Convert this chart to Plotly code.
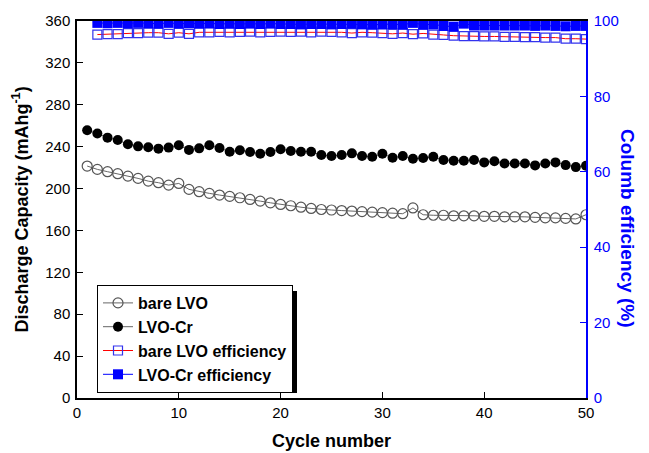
import plotly.graph_objects as go

cycles = list(range(1, 51))
bare_lvo = [221.5, 218.3, 216.1, 214.2, 211.9, 209.7, 207.1, 205.6, 203.3, 204.9,
            199.2, 197.0, 195.4, 193.8, 192.5, 191.2, 189.6, 188.0, 186.4, 184.8,
            183.6, 182.2, 181.0, 180.0, 179.5, 179.0, 178.5, 178.0, 177.5, 177.0,
            176.5, 176.0, 181.5, 175.0, 174.5, 174.5, 174.0, 174.0, 174.0, 173.5,
            173.5, 173.0, 173.0, 173.0, 172.5, 172.0, 172.0, 171.5, 171.0, 175.0]
lvo_cr = [255.6, 252.5, 248.6, 246.4, 242.3, 240.3, 239.4, 238.1, 239.1, 241.3,
          236.9, 238.4, 241.3, 238.7, 235.2, 236.5, 234.9, 233.3, 234.9, 237.5,
          235.8, 235.2, 235.2, 232.0, 231.1, 232.0, 233.6, 231.1, 230.4, 233.3,
          229.4, 231.1, 228.4, 229.1, 230.4, 227.2, 226.6, 226.6, 227.2, 225.0,
          226.0, 224.0, 224.0, 224.0, 222.1, 224.0, 225.0, 222.4, 220.5, 221.8]
eff_cycles = list(range(2, 51))
bare_eff = [96.4, 96.5, 96.5, 96.8, 96.8, 96.9, 96.9, 96.6, 96.9, 96.6,
            97.0, 97.0, 97.1, 97.0, 97.1, 97.2, 97.0, 97.1, 97.2, 97.1,
            97.2, 97.0, 97.2, 97.1, 97.0, 96.8, 97.0, 96.9, 96.8, 96.6,
            96.8, 96.5, 96.7, 96.4, 96.3, 96.1, 96.0, 96.0, 95.9, 95.9,
            95.8, 95.8, 95.7, 95.7, 95.6, 95.6, 95.3, 95.3, 95.2]
cr_eff = [99.5, 99.4, 99.5, 99.4, 99.5, 99.4, 99.3, 99.5, 99.3, 99.4,
          99.3, 99.4, 99.2, 99.3, 99.2, 99.3, 99.2, 99.3, 99.2, 99.2,
          99.1, 99.2, 99.2, 99.1, 99.2, 99.3, 99.1, 99.0, 99.1, 99.2,
          99.0, 99.5, 99.0, 99.1, 98.7, 98.5, 99.3, 98.8, 98.8, 98.8,
          98.8, 98.8, 98.8, 98.7, 98.8, 98.7, 98.6, 98.7, 98.7]

FONT = "Liberation Sans, Arial, sans-serif"

fig = go.Figure()
fig.add_trace(go.Scatter(x=cycles, y=bare_lvo, name="bare LVO", mode="lines+markers",
                         line=dict(color="#666666", width=1),
                         marker=dict(symbol="circle-open", size=10, color="#555555",
                                     line=dict(width=1.2))))
fig.add_trace(go.Scatter(x=cycles, y=lvo_cr, name="LVO-Cr", mode="lines+markers",
                         line=dict(color="#666666", width=1),
                         marker=dict(symbol="circle", size=10, color="black")))
fig.add_trace(go.Scatter(x=eff_cycles, y=bare_eff, name="bare LVO efficiency", mode="lines+markers",
                         yaxis="y2", line=dict(color="red", width=1),
                         marker=dict(symbol="square-open", size=9, color="#3333ee",
                                     line=dict(width=1.2))))
fig.add_trace(go.Scatter(x=eff_cycles, y=cr_eff, name="LVO-Cr efficiency", mode="lines+markers",
                         yaxis="y2", line=dict(color="blue", width=1),
                         marker=dict(symbol="square", size=10, color="blue")))

OFF = 8  # default page body margin
W, H = 641, 445
L, T = 77 - OFF, 21 - OFF
pw, ph = 509, 377
R, B = W - L - pw, H - T - ph

def px(xp):
    return (xp - OFF - L) / pw

def py(yp):
    return (T + ph + OFF - yp) / ph

LEG_X, LEG_Y = 97, 285
LEG_W, LEG_H = 194, 102
SH = 6

fig.update_layout(
    width=W, height=H,
    margin=dict(l=L, r=R, t=T, b=B, autoexpand=False),
    paper_bgcolor="white", plot_bgcolor="white",
    font=dict(family=FONT, size=15, color="black"),
    showlegend=True,
    legend=dict(x=px(LEG_X), y=py(LEG_Y), xanchor="left", yanchor="top",
                bgcolor="white", bordercolor="black", borderwidth=1,
                font=dict(family=FONT, size=16, color="black", weight="bold"),
                tracegroupgap=0, itemwidth=30),
    xaxis=dict(range=[0, 50], tickvals=[0, 10, 20, 30, 40, 50], ticks="inside",
               ticklen=6, tickcolor="black", showline=True, linecolor="black",
               linewidth=1.5, mirror=True, showgrid=False, zeroline=False,
               automargin=False, tickfont=dict(size=15),
               title=dict(text="Cycle number", font=dict(size=18, weight="bold"),
                          standoff=15)),
    yaxis=dict(range=[0, 360], tickvals=list(range(0, 361, 40)), ticks="inside",
               ticklen=6, tickcolor="black", showline=True, linecolor="black",
               linewidth=1.5, showgrid=False, zeroline=False, automargin=False,
               tickfont=dict(size=15), ticklabelstandoff=2,
               title=dict(text="Discharge Capacity (mAhg<sup>-1</sup>)",
                          font=dict(size=18, weight="bold"), standoff=12)),
    yaxis2=dict(range=[0, 100], tickvals=list(range(0, 101, 20)), overlaying="y",
                side="right", ticks="inside", ticklen=6, tickcolor="blue",
                showline=True, linecolor="blue", linewidth=1.5, showgrid=False,
                zeroline=False, automargin=False, ticklabelstandoff=3,
                tickfont=dict(size=15, color="blue")),
    shapes=[dict(type="rect", xref="paper", yref="paper",
                 x0=px(LEG_X + SH), x1=px(LEG_X + LEG_W + SH),
                 y0=py(LEG_Y + LEG_H + SH), y1=py(LEG_Y + SH),
                 fillcolor="black", line=dict(width=0), layer="above")],
    annotations=[dict(text="Columb efficiency (%)", xref="paper", yref="paper",
                      x=px(628), y=py(228), xanchor="center", yanchor="middle",
                      textangle=90, showarrow=False,
                      font=dict(family=FONT, size=19, color="blue", weight="bold"))],
)

fig.write_html("out.html")
